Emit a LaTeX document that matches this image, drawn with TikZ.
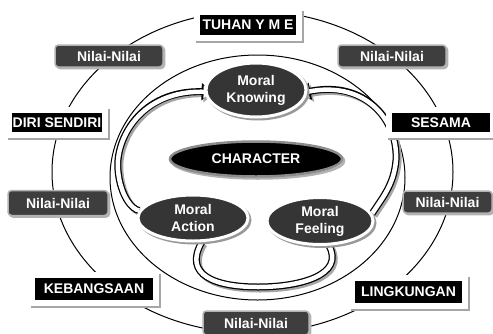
\documentclass[tikz,border=0pt]{standalone}
\usepackage{fontspec}
\setmainfont{Liberation Sans}
\usetikzlibrary{shapes.geometric,backgrounds,arrows.meta}
\definecolor{ellfill}{HTML}{353535}
\definecolor{nilfill}{HTML}{3E3E3E}
\begin{document}
\begin{tikzpicture}[x=1pt,y=-1pt,
  font=\bfseries\fontsize{14}{17}\selectfont,
  blk/.style={fill=black, text=white, draw=white, line width=6pt, inner sep=0pt,
    preaction={draw=black!35, line width=6pt, transform canvas={xshift=2pt,yshift=-2pt}}},
  nil/.style={fill=nilfill, text=white, draw=black!30, line width=1.5pt, rounded corners=3.5pt,
    inner sep=0pt, minimum height=22pt,
    preaction={fill=black!30, draw=black!30, transform canvas={xshift=1.5pt,yshift=-1.5pt}}},
  ell/.style={ellipse, fill=ellfill, text=white, draw=white, line width=3pt, inner sep=0pt,
    align=center,
    preaction={draw=black!40, line width=3pt, transform canvas={xshift=2pt,yshift=-2pt}}},
  band/.style={draw=white, line width=4.5pt,
    preaction={draw=black!35, line width=7pt, transform canvas={xshift=2pt,yshift=-2pt}},
    preaction={draw=black, line width=7pt}},
  bandarrow/.style={draw=white, line width=4.5pt, shorten >=-7pt, -{Triangle[length=8pt,width=13pt]},
    preaction={draw=black!35, line width=7pt, shorten >=-7pt, -{Triangle[length=10pt,width=17pt]},
      transform canvas={xshift=2pt,yshift=-2pt}},
    preaction={draw=black, line width=7pt, shorten >=-7pt, -{Triangle[length=10pt,width=17pt]}}},
  ring/.style={draw=black, line width=1pt}
]
\useasboundingbox (0,0) rectangle (493,333);

% central nodes
\node[ell, minimum width=100pt, minimum height=54pt] (mk) at (256,90) {Moral\\Knowing};
\node[ell, minimum width=110pt, minimum height=46pt] (ma) at (193,218) {Moral\\Action};
\node[ell, minimum width=106pt, minimum height=47pt] (mf) at (320,221) {Moral\\Feeling};
\node[ellipse, fill=black, text=white, draw=black!45, line width=2.5pt, inner sep=0pt,
  minimum width=172pt, minimum height=35pt,
  preaction={draw=black!30, line width=2.5pt, transform canvas={xshift=2pt,yshift=-2pt}}]
  (ch) at (256,159) {CHARACTER};

\begin{scope}[on background layer]
  \node[ellipse, ring, minimum width=401pt, minimum height=322pt, inner sep=0pt] (outer) at (252.5,172) {};
  \node[ellipse, ring, minimum width=295pt, minimum height=245pt, inner sep=0pt] (inner) at (257.5,177.5) {};
  \draw[bandarrow] (ma.172) .. controls (132,210) and (120,195) .. (118,170)
      .. controls (115,140) and (140,90) .. (mk.182);
  \draw[bandarrow] (mf.8) .. controls (382,198) and (394,185) .. (396,160)
      .. controls (398,120) and (365,80) .. (mk.-2);
  \draw[band] (ma.-70) .. controls (183,275) and (215,287) .. (258,287)
      .. controls (300,287) and (345,275) .. (mf.-70);
\end{scope}

% outer labels
\node[blk, minimum width=102pt, minimum height=26pt] (tuhan) at (248,25) {TUHAN Y M E};
\node[blk, minimum width=96pt, minimum height=25pt] (diri) at (57,122.5) {DIRI SENDIRI};
\node[blk, minimum width=104pt, minimum height=25pt] (sesama) at (441,122.5) {SESAMA};
\node[blk, minimum width=124pt, minimum height=28pt] (kebang) at (94,289) {KEBANGSAAN};
\node[blk, minimum width=113pt, minimum height=28pt] (lingk) at (408.5,292) {LINGKUNGAN};

\node[nil, minimum width=108pt] (n1) at (109,56) {Nilai-Nilai};
\node[nil, minimum width=108pt] (n2) at (392,56) {Nilai-Nilai};
\node[nil, minimum width=100pt, minimum height=25pt] (n3) at (58,203) {Nilai-Nilai};
\node[nil, minimum width=89pt] (n4) at (447.5,202) {Nilai-Nilai};
\node[nil, minimum width=106pt, minimum height=24pt] (n5) at (256,323) {Nilai-Nilai};
\end{tikzpicture}
\end{document}
